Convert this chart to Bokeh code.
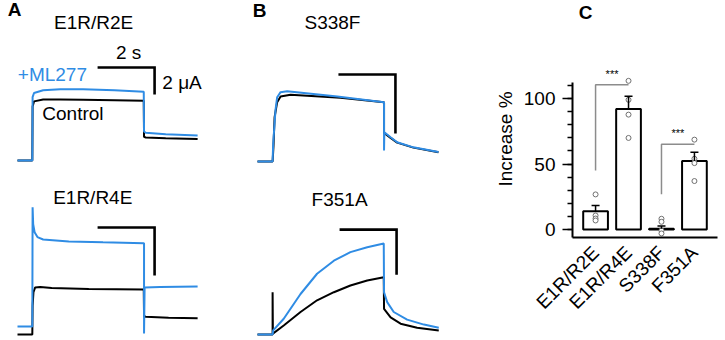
import math
from bokeh.plotting import figure
from bokeh.layouts import row, column
from bokeh.models import (Range1d, FactorRange, SingleIntervalTicker, Whisker,
                          TeeHead, ColumnDataSource)
from bokeh.core.properties import value
from bokeh.embed import file_html
from bokeh.resources import INLINE

# ---------------- data: current traces (time in s, current in scale units) ----
# A, top: E1R/R2E (uA)
a1_ctl_t = [0, 0.52, 0.53, 0.58, 0.9, 1.5, 2.3, 3.4, 4.43, 4.44, 4.5, 5.2, 6.32]
a1_ctl_i = [0, 0, 4.0, 4.38, 4.52, 4.52, 4.5, 4.47, 4.42, 1.75, 1.7, 1.64, 1.6]
a1_ml_t = [0, 0.52, 0.53, 0.58, 0.9, 1.5, 2.3, 3.4, 4.43, 4.44, 4.5, 5.2, 6.32]
a1_ml_i = [0, 0, 4.7, 5.0, 5.2, 5.28, 5.28, 5.2, 5.1, 2.15, 2.05, 1.95, 1.85]

# A, bottom: E1R/R4E
a2_ctl_t = [0, 0.52, 0.53, 0.56, 0.62, 0.8, 1.2, 2.5, 4.43, 4.44, 4.5, 5.3, 6.32]
a2_ctl_i = [0, 0, 0.6, 0.88, 0.98, 0.99, 0.97, 0.95, 0.94, 0.38, 0.37, 0.35, 0.34]
a2_ml_t = [0, 0.52, 0.53, 0.55, 0.6, 0.7, 0.9, 1.8, 3.0, 4.43, 4.44, 4.44, 4.46, 5.0, 6.32]
a2_ml_i = [0.167, 0.167, 2.65, 2.3, 2.13, 2.03, 1.98, 1.94, 1.92, 1.9, 1.9, 0.02, 0.98, 0.99, 1.0]

# B, top: S338F
b1_ctl_t = [0, 0.53, 0.56, 0.6, 0.69, 0.81, 1.16, 2.91, 4.44, 4.44, 4.67, 4.9, 5.47, 6.35]
b1_ctl_i = [0, 0, 0.5, 1.5, 2.01, 2.2, 2.26, 2.16, 2.01, 0.97, 0.8, 0.64, 0.47, 0.31]
b1_ml_t = [0, 0.53, 0.55, 0.63, 0.69, 0.81, 1.04, 2.8, 4.44, 4.44, 4.45, 4.67, 4.9, 5.47, 6.35]
b1_ml_i = [0, 0, 0.6, 1.73, 2.18, 2.35, 2.38, 2.2, 2.01, 0.37, 0.99, 0.82, 0.65, 0.48, 0.32]

# B, bottom: F351A
b2_ctl_t = [0, 0.53, 0.53, 0.54, 0.92, 1.51, 2.09, 2.68, 3.26, 3.85, 4.43, 4.44, 4.67, 5.02, 5.6, 6.36]
b2_ctl_i = [0, 0, 0.94, 0.02, 0.2, 0.5, 0.76, 0.94, 1.09, 1.2, 1.27, 0.57, 0.38, 0.24, 0.15, 0.09]
b2_ml_t = [0, 0.53, 0.55, 0.92, 1.51, 2.09, 2.68, 3.26, 3.85, 4.43, 4.44, 4.55, 4.78, 5.25, 5.84, 6.36]
b2_ml_i = [0, 0, 0.09, 0.35, 0.9, 1.35, 1.64, 1.83, 1.94, 2.02, 0.94, 0.72, 0.5, 0.33, 0.22, 0.15]

scale_time = 2.0          # s
scale_current = [2.0, 1.0, 2.0, 1.0]   # units of the vertical scale bars

# ---------------- data: bar chart -------------------------------------------
cats = ["E1R/R2E", "E1R/R4E", "S338F", "F351A"]
means = [14.0, 92.0, 0.6, 52.3]
sems = [4.4, 9.7, 2.0, 6.7]
points = [[26.8, 10.7, 8.4, 6.9],
          [113.5, 99.0, 87.7, 69.9],
          [8.2, 5.9, -0.8, -3.0],
          [68.6, 54.0, 50.7, 37.0]]
sig_pairs = [(0, 1), (2, 3)]
sig_low = [45.0, 27.0]
sig_high = [110.6, 65.0]
sig_text = ["***", "***"]

# ---------------- styling ----------------------------------------------------
BLUE = "#2F8CE4"
FONT = "Liberation Sans"
PX_PER_S = 28.5
T_LO = -17 / PX_PER_S
T_HI = 223 / PX_PER_S


def bare_fig(width, height, x_range, y_range):
    f = figure(width=width, height=height, x_range=x_range, y_range=y_range,
               output_backend="svg", toolbar_location=None, min_border=0,
               outline_line_color=None, x_axis_location=None, y_axis_location=None,
               title=None, background_fill_color="white", border_fill_color="white")
    f.grid.visible = False
    return f


def trace_panel(px_per_unit, base_px, ctl_t, ctl_i, ml_t, ml_i, bar_t0, bar_top, bar_units):
    f = bare_fig(240, 170, Range1d(T_LO, T_HI),
                 Range1d(-base_px / px_per_unit, (170 - base_px) / px_per_unit))
    f.line(ctl_t, ctl_i, line_color="black", line_width=2)
    f.line(ml_t, ml_i, line_color=BLUE, line_width=2)
    f.line([bar_t0, bar_t0 + scale_time, bar_t0 + scale_time],
           [bar_top, bar_top, bar_top - bar_units],
           line_color="black", line_width=2.6, line_join="miter")
    return f


def add_text(f, xs, ys, texts, color="black", size="19px", align="center", style="normal"):
    f.text(x=xs, y=ys, text=texts, text_font=value(FONT), text_font_size=size,
           text_color=color, text_align=align, text_baseline="middle",
           text_font_style=style)


a1 = trace_panel(13.5, 10, a1_ctl_t, a1_ctl_i, a1_ml_t, a1_ml_i, 2.81, 6.89, scale_current[0])
add_text(a1, [-0.105], [11.15], ["A"], style="bold")
add_text(a1, [2.67], [10.2], ["E1R/R2E"])
add_text(a1, [3.9], [8.0], ["2 s"])
add_text(a1, [5.08], [5.8], ["2 \u03bcA"], align="left")
add_text(a1, [0.01], [6.36], ["+ML277"], color=BLUE, align="left")
add_text(a1, [0.87], [3.48], ["Control"], align="left")

a2 = trace_panel(48.0, 6, a2_ctl_t, a2_ctl_i, a2_ml_t, a2_ml_i, 2.81, 2.23, scale_current[1])
add_text(a2, [2.64], [2.85], ["E1R/R4E"])

b1 = trace_panel(29.5, 9, b1_ctl_t, b1_ctl_i, b1_ml_t, b1_ml_i, 2.84, 2.95, scale_current[2])
add_text(b1, [0.07], [5.12], ["B"], style="bold")
add_text(b1, [2.63], [4.72], ["S338F"])

b2 = trace_panel(45.0, 6, b2_ctl_t, b2_ctl_i, b2_ml_t, b2_ml_i, 2.88, 2.33, scale_current[3])
add_text(b2, [2.88], [3.0], ["F351A"])

# ---------------- bar chart --------------------------------------------------
c_head = bare_fig(245, 40, Range1d(0, 245), Range1d(0, 40))
add_text(c_head, [22], [28], ["C"], style="bold")

c = figure(width=245, height=300,
           x_range=FactorRange(factors=cats, range_padding=0.2, range_padding_units="absolute"),
           y_range=Range1d(-6.1, 144.3),
           output_backend="svg", toolbar_location=None, title=None,
           min_border_left=92, min_border_right=8, min_border_top=0, min_border_bottom=103,
           outline_line_color=None, background_fill_color="white", border_fill_color="white")
c.grid.visible = False

c.vbar(x=cats, top=means, bottom=0, width=0.75, fill_color="white",
       line_color="black", line_width=2)

err_src = ColumnDataSource(dict(cat=cats, mean=means, upper=[m + s for m, s in zip(means, sems)]))
c.add_layout(Whisker(base="cat", upper="upper", lower="mean", source=err_src,
                     line_color="black", line_width=1.5,
                     upper_head=TeeHead(size=8, line_color="black", line_width=1.5),
                     lower_head=None, level="overlay"))

pt_x, pt_y = [], []
for cat, vals in zip(cats, points):
    for v in vals:
        pt_x.append(cat)
        pt_y.append(v)
c.scatter(x=pt_x, y=pt_y, marker="circle", size=5, fill_color="white",
          line_color="#707070", line_width=1)

br_xs, br_ys, st_x, st_y = [], [], [], []
for (i, j), lo, hi in zip(sig_pairs, sig_low, sig_high):
    br_xs.append([i + 0.5, i + 0.5, j + 0.5])
    br_ys.append([lo, hi, hi])
    st_x.append((i + j) / 2 + 0.5)
    st_y.append(hi + 8.5)
c.multi_line(xs=br_xs, ys=br_ys, line_color="#8C8C8C", line_width=1.5)
c.text(x=st_x, y=st_y, text=sig_text, text_font=value(FONT), text_font_size="11px",
       text_align="center", text_baseline="middle", text_color="black")

ya = c.yaxis[0]
ya.ticker = SingleIntervalTicker(interval=50, num_minor_ticks=5)
ya.bounds = (-6.1, 112.5)
ya.axis_label = "Increase %"
ya.axis_label_text_font = FONT
ya.axis_label_text_font_size = "19px"
ya.axis_label_text_font_style = "normal"
ya.axis_label_text_color = "black"
ya.axis_label_standoff = 5
ya.major_label_text_font = FONT
ya.major_label_text_font_size = "19px"
ya.major_label_text_color = "black"
ya.major_label_standoff = 7
ya.major_tick_out = 10
ya.major_tick_in = 0
ya.minor_tick_out = 5
ya.minor_tick_in = 0
ya.axis_line_width = 2
ya.major_tick_line_width = 1.5
ya.minor_tick_line_width = 1.5

xa = c.xaxis[0]
xa.major_label_orientation = math.pi / 4
xa.major_label_text_font = FONT
xa.major_label_text_font_size = "19px"
xa.major_label_text_color = "black"
xa.major_label_standoff = 12
xa.major_tick_out = 0
xa.major_tick_in = 0
xa.axis_line_width = 2

layout = row(column(a1, a2), column(b1, b2), column(c_head, c))
open("out.html", "w").write(file_html(layout, INLINE))
